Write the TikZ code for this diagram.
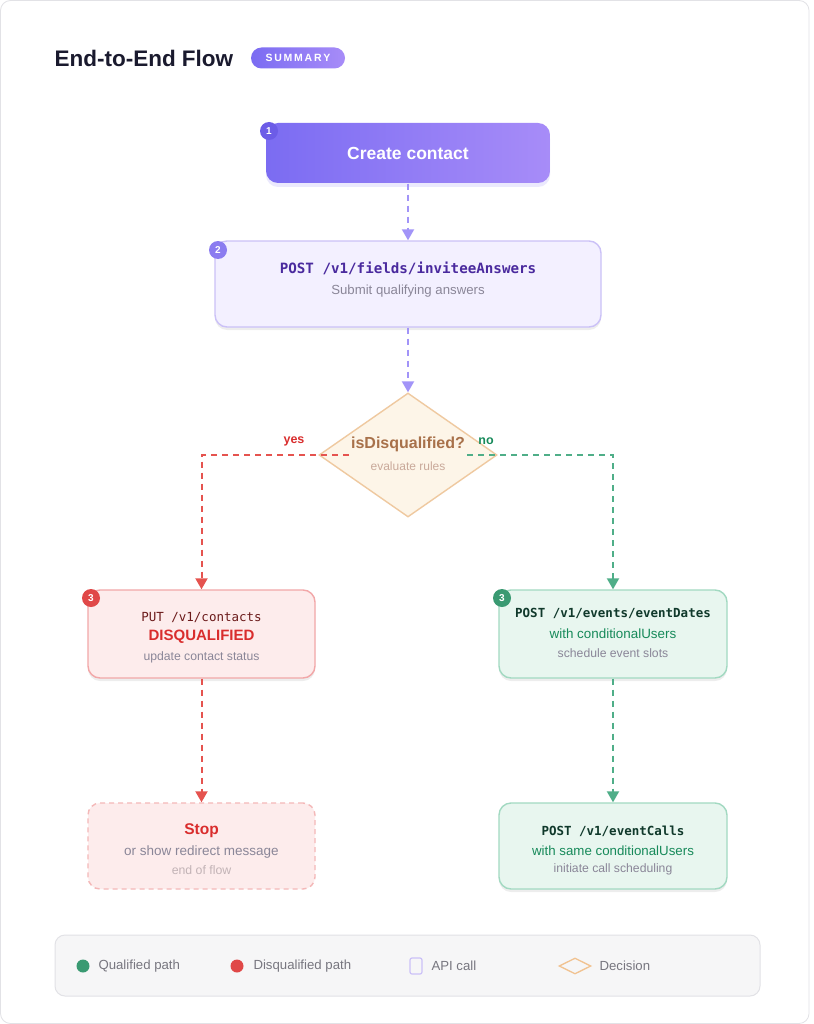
\documentclass[tikz,border=0pt]{standalone}
\usepackage{fontspec}
\setmainfont{Liberation Sans}
\newfontfamily\monof{DejaVu Sans Mono}
\usetikzlibrary{shapes.geometric,arrows.meta,shadows}
\definecolor{ink}{HTML}{1A1A2E}
\definecolor{pA}{HTML}{7B6CF2}
\definecolor{pB}{HTML}{A78CF8}
\definecolor{pBadge}{HTML}{6C5CE7}
\definecolor{pBadgeB}{HTML}{8B7CF0}
\definecolor{pLine}{HTML}{A294F8}
\definecolor{pFill}{HTML}{F3F0FF}
\definecolor{pBorder}{HTML}{CBC1F7}
\definecolor{pText}{HTML}{4A2A9E}
\definecolor{grayT}{HTML}{8A8698}
\definecolor{dFill}{HTML}{FDF5E8}
\definecolor{dBorder}{HTML}{EFC9A0}
\definecolor{dText}{HTML}{A8714A}
\definecolor{dSub}{HTML}{C9A99A}
\definecolor{rLine}{HTML}{E5534F}
\definecolor{rFill}{HTML}{FDECEC}
\definecolor{rBorder}{HTML}{F2A7A8}
\definecolor{rText}{HTML}{D92D2D}
\definecolor{rMono}{HTML}{6B1A1A}
\definecolor{rBadge}{HTML}{E04848}
\definecolor{rDash}{HTML}{F4B8B8}
\definecolor{gLine}{HTML}{4FAE88}
\definecolor{gFill}{HTML}{E8F6EF}
\definecolor{gBorder}{HTML}{A2D9C1}
\definecolor{gText}{HTML}{178A5A}
\definecolor{gMono}{HTML}{10392B}
\definecolor{gBadge}{HTML}{3A9A72}
\definecolor{legFill}{HTML}{F6F6F7}
\definecolor{legBorder}{HTML}{E2E2E6}
\definecolor{legText}{HTML}{77767F}
\definecolor{lightG}{HTML}{C2B3B6}
\tikzset{
  box/.style={rectangle, rounded corners=12pt, line width=1.4pt, inner sep=0pt},
  badge/.style={circle, minimum size=18pt, inner sep=0pt, text=white, font=\bfseries\fontsize{10}{10}\selectfont},
  flow/.style={line width=2pt, dash pattern=on 6pt off 5pt, -{Triangle[width=12pt,length=11pt]}},
  mono/.style={font=\monof\bfseries\fontsize{13.5}{15}\selectfont},
  sub/.style={font=\fontsize{12.2}{14}\selectfont, text=grayT},
  soft/.style={drop shadow={shadow xshift=0pt, shadow yshift=-3pt, opacity=0.07, fill=black}},
  legt/.style={font=\fontsize{13.2}{15}\selectfont, text=legText, anchor=west},
}
\begin{document}
\begin{tikzpicture}[x=1pt,y=-1pt]
\useasboundingbox (0,0) rectangle (813,1024);
\fill[white] (0,0) rectangle (813,1024);
\draw[legBorder, line width=0.8pt, rounded corners=10pt] (0.5,0.5) rectangle (809,1023.5);

% title
\node[anchor=west, font=\bfseries\fontsize{22.5}{24}\selectfont, text=ink] (title) at (51,58) {End-to-End Flow};
\node[rectangle, rounded corners=10.5pt, minimum width=94pt, minimum height=21pt, inner sep=0pt, left color=pA, right color=pB, text=white, font=\bfseries\fontsize{10.5}{10}\selectfont] (pill) at (298,58) {S\,U\,M\,M\,A\,R\,Y};

% step 1
\node[box, minimum width=284pt, minimum height=60pt, left color=pA, right color=pB, draw=none,
  drop shadow={shadow xshift=0pt, shadow yshift=-4pt, opacity=0.15, fill=pA}] (create) at (408,153) {};
\node[font=\bfseries\fontsize{17.5}{19}\selectfont, text=white] (createT) at (408,153) {Create contact};
\node[badge, fill=pBadge] (b1) at (269,131) {1};

% step 2
\node[box, minimum width=386pt, minimum height=86pt, fill=pFill, draw=pBorder, soft] (answers) at (408,284) {};
\node[mono, font=\monof\bfseries\fontsize{14.2}{16}\selectfont, text=pText] (answersT) at (408,268) {POST /v1/fields/inviteeAnswers};
\node[sub, font=\fontsize{13.2}{15}\selectfont] (answersS) at (408,291) {Submit qualifying answers};
\node[badge, fill=pBadgeB] (b2) at (218,250) {2};

% decision
\node[diamond, minimum width=178pt, minimum height=124pt, inner sep=0pt, fill=dFill, draw=dBorder, line width=1.4pt] (dec) at (408,455) {};
\node[font=\bfseries\fontsize{16}{18}\selectfont, text=dText] (decT) at (408,444) {isDisqualified?};
\node[font=\fontsize{12}{14}\selectfont, text=dSub] (decS) at (408,466) {evaluate rules};
\node[font=\bfseries\fontsize{12.5}{14}\selectfont, text=rText] (yes) at (294,441) {yes};
\node[font=\bfseries\fontsize{12.5}{14}\selectfont, text=gText] (no) at (486,441) {no};
\coordinate (yesS) at (349,455);
\coordinate (noS) at (467,455);

% left branch
\node[box, minimum width=227pt, minimum height=88pt, fill=rFill, draw=rBorder, soft] (put) at (201.5,634) {};
\node[font=\monof\fontsize{12.5}{14}\selectfont, text=rMono] (putT) at (201.5,618) {PUT /v1/contacts};
\node[font=\bfseries\fontsize{15}{17}\selectfont, text=rText] (putD) at (201.5,637) {DISQUALIFIED};
\node[sub] (putS) at (201.5,657) {update contact status};
\node[badge, fill=rBadge] (b3l) at (91,598) {3};

\node[box, minimum width=227pt, minimum height=86pt, fill=rFill, draw=rDash, dash pattern=on 5pt off 4pt] (stop) at (201.5,846) {};
\node[font=\bfseries\fontsize{15.5}{17}\selectfont, text=rText] (stopT) at (201.5,831) {Stop};
\node[font=\fontsize{13.5}{15}\selectfont, text=grayT] (stopS) at (201.5,852) {or show redirect message};
\node[font=\fontsize{12.3}{14}\selectfont, text=lightG] (stopE) at (201.5,870) {end of flow};

% right branch
\node[box, minimum width=228pt, minimum height=88pt, fill=gFill, draw=gBorder, soft] (dates) at (613,634) {};
\node[mono, font=\monof\bfseries\fontsize{12.5}{14}\selectfont, text=gMono] (datesT) at (613,613) {POST /v1/events/eventDates};
\node[font=\fontsize{13.4}{15}\selectfont, text=gText] (datesC) at (613,634) {with conditionalUsers};
\node[sub] (datesS) at (613,653) {schedule event slots};
\node[badge, fill=gBadge] (b3r) at (502,598) {3};

\node[box, minimum width=228pt, minimum height=86pt, fill=gFill, draw=gBorder, soft] (calls) at (613,846) {};
\node[mono, font=\monof\bfseries\fontsize{12.5}{14}\selectfont, text=gMono] (callsT) at (613,831) {POST /v1/eventCalls};
\node[font=\fontsize{13.3}{15}\selectfont, text=gText] (callsC) at (613,851) {with same conditionalUsers};
\node[sub] (callsS) at (613,869) {initiate call scheduling};

% connectors
\draw[flow, pLine] (create.south) -- (answers.north);
\draw[flow, pLine] (answers.south) -- (dec.north);
\draw[flow, rLine] (yesS) -| (put.north);
\draw[flow, gLine] (noS) -| (dates.north);
\draw[flow, rLine] (put.south) -- (stop.north);
\draw[flow, gLine] (dates.south) -- (calls.north);

% legend
\node[rectangle, rounded corners=10pt, minimum width=705pt, minimum height=61pt, fill=legFill, draw=legBorder, line width=1pt] (legend) at (407.5,965.5) {};
\node[circle, fill=gBadge, minimum size=13pt, inner sep=0pt] (lg1) at (83,966) {};
\node[legt] (lg1t) at (95,966) {Qualified path};
\node[circle, fill=rBadge, minimum size=13pt, inner sep=0pt] (lg2) at (237,966) {};
\node[legt] (lg2t) at (250,966) {Disqualified path};
\node[rectangle, rounded corners=2pt, minimum width=12pt, minimum height=16pt, inner sep=0pt, draw=pBorder, line width=1.2pt] (lg3) at (416,966) {};
\node[legt] (lg3t) at (428,966) {API call};
\node[diamond, minimum width=32pt, minimum height=16pt, inner sep=0pt, draw=dBorder!90!orange, line width=1.3pt] (lg4) at (575,966) {};
\node[legt] (lg4t) at (596,966) {Decision};
\end{tikzpicture}
\end{document}
